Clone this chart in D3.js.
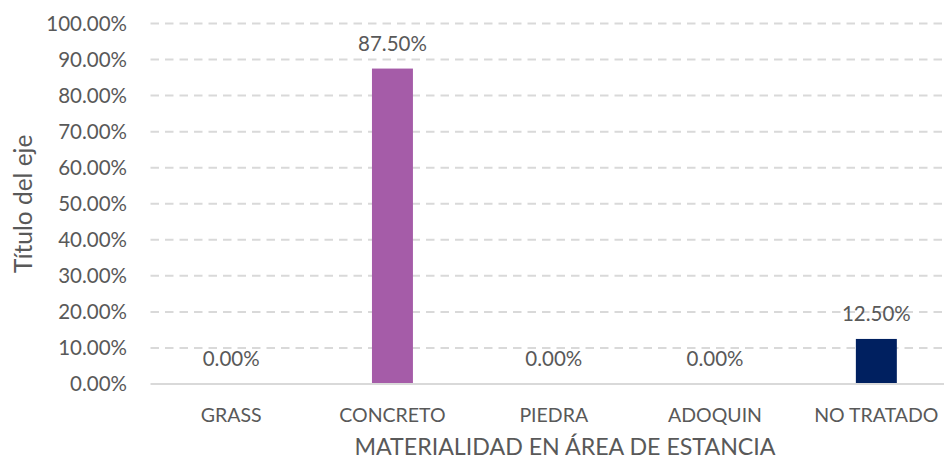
<!DOCTYPE html>
<html>
<head>
<meta charset="utf-8">
<script src="https://cdn.jsdelivr.net/npm/d3@7"></script>
<style>
  body { margin: 0; background: #fff; }
  text { font-family: Lato, "Open Sans", sans-serif; fill: #595959; }
</style>
</head>
<body>
<div id="chart"></div>
<script>
// Chart data
const categories = ["GRASS", "CONCRETO", "PIEDRA", "ADOQUIN", "NO TRATADO"];
const values = [0, 0.875, 0, 0, 0.125];
const yTicks = [0, 0.1, 0.2, 0.3, 0.4, 0.5, 0.6, 0.7, 0.8, 0.9, 1.0];
const xTitle = "MATERIALIDAD EN ÁREA DE ESTANCIA";
const yTitle = "Título del eje";

const width = 944, height = 463;
const plot = { left: 150.5, right: 957, top: 23.5, bottom: 384 };
const barColors = ["#4472c4", "#a55ca8", "#a5a5a5", "#ffc000", "#002060"];

const svg = d3.select("#chart").append("svg").attr("width", width).attr("height", height);

// Scales
const x = d3.scaleBand().domain(categories).range([plot.left, plot.right])
    .paddingInner(0.746).paddingOuter(0.373);
const y = d3.scaleLinear().domain([0, 1]).range([plot.bottom, plot.top]);
const pct = d3.format(".2%");

// Gridlines (dashed)
svg.append("g").selectAll("line")
    .data(yTicks.filter(d => d > 0))
    .enter().append("line")
    .attr("x1", plot.left).attr("x2", width)
    .attr("y1", d => y(d)).attr("y2", d => y(d))
    .attr("stroke", "#d9d9d9")
    .attr("stroke-width", 2)
    .attr("stroke-dasharray", "8.5,6");

// Y tick labels
svg.append("g").selectAll("text")
    .data(yTicks)
    .enter().append("text")
    .attr("x", 127)
    .attr("y", d => y(d))
    .attr("dy", "0.36em")
    .attr("text-anchor", "end")
    .style("font-size", "20.5px")
    .text(d => pct(d));

// Bars
svg.append("g").selectAll("rect")
    .data(values)
    .enter().append("rect")
    .attr("x", (d, i) => x(categories[i]))
    .attr("width", x.bandwidth())
    .attr("y", d => y(d))
    .attr("height", d => y(0) - y(d))
    .attr("fill", (d, i) => barColors[i]);

// Baseline
svg.append("line")
    .attr("x1", plot.left).attr("x2", width)
    .attr("y1", y(0)).attr("y2", y(0))
    .attr("stroke", "#d9d9d9")
    .attr("stroke-width", 2);

// Data labels
svg.append("g").selectAll("text")
    .data(values)
    .enter().append("text")
    .attr("x", (d, i) => x(categories[i]) + x.bandwidth() / 2)
    .attr("y", d => y(d) - 18)
    .attr("text-anchor", "middle")
    .style("font-size", "20.5px")
    .text(d => pct(d));

// Category labels
svg.append("g").selectAll("text")
    .data(categories)
    .enter().append("text")
    .attr("x", d => x(d) + x.bandwidth() / 2)
    .attr("y", y(0) + 38)
    .attr("text-anchor", "middle")
    .style("font-size", "19.5px")
    .text(d => d);

// Axis titles
svg.append("text")
    .attr("x", 565).attr("y", 455)
    .attr("text-anchor", "middle")
    .style("font-size", "23.2px")
    .text(xTitle);

svg.append("text")
    .attr("transform", `translate(32, ${(plot.top + plot.bottom) / 2}) rotate(-90)`)
    .attr("text-anchor", "middle")
    .style("font-size", "24.5px")
    .text(yTitle);
</script>
</body>
</html>
